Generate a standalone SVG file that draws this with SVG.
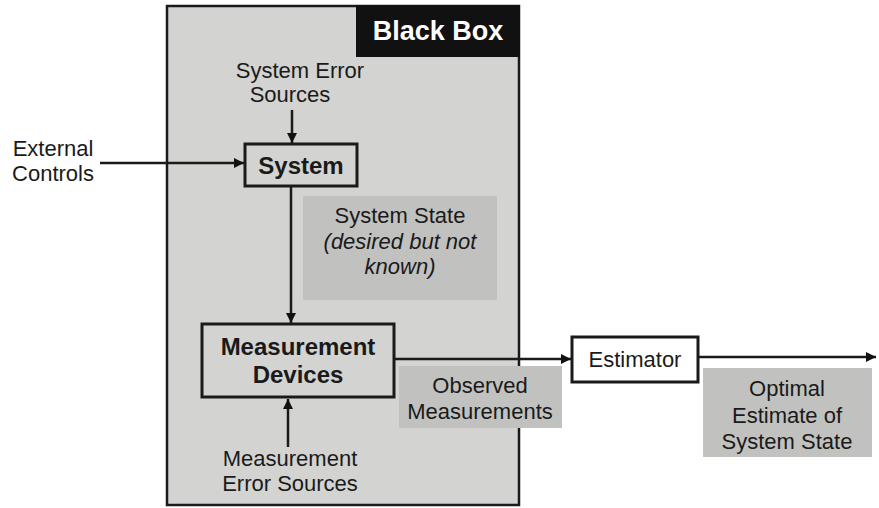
<svg xmlns="http://www.w3.org/2000/svg" width="879" height="508" viewBox="0 0 879 508">
<defs>
<marker id="ah" markerWidth="10" markerHeight="10" viewBox="0 0 10 10" refX="10" refY="5" orient="auto" markerUnits="userSpaceOnUse">
<path d="M0,0 L10,5 L0,10 z" fill="#111"/>
</marker>
<style>
text{font-family:"Liberation Sans",Arial,sans-serif;font-size:22px;fill:#1a1a1a;text-anchor:middle}
.b{font-weight:bold;font-size:24px}
.i{font-style:italic}
.box{fill:none;stroke:#1a1a1a;stroke-width:3}
.lbl{fill:#c1c2c0}
.c{stroke:#1a1a1a;stroke-width:2.5;fill:none;marker-end:url(#ah)}
</style>
</defs>
<rect width="879" height="508" fill="#ffffff"/>
<g id="blackbox">
<rect x="167" y="6" width="352" height="499" fill="#d3d4d2" stroke="#1a1a1a" stroke-width="2.5"/>
<rect x="356" y="5" width="164" height="52" fill="#111"/>
<text x="438" y="40" class="b" style="fill:#fff;font-size:27px">Black Box</text>
</g>
<g id="connectors">
<line class="c" x1="292" y1="110" x2="292" y2="143"/>
<line class="c" x1="100" y1="163" x2="244" y2="163"/>
<line class="c" x1="291" y1="187" x2="291" y2="323"/>
<line class="c" x1="288" y1="447" x2="288" y2="399"/>
<line class="c" x1="395" y1="359" x2="571" y2="359"/>
<line class="c" x1="699" y1="357" x2="876" y2="357"/>
</g>
<g id="system-error-sources">
<text x="300" y="78">System Error</text>
<text x="290" y="102">Sources</text>
</g>
<g id="external-controls">
<text x="53" y="156">External</text>
<text x="53" y="181">Controls</text>
</g>
<g id="system">
<rect class="box" x="245" y="144" width="112" height="42"/>
<text x="301" y="174" class="b">System</text>
</g>
<g id="system-state">
<rect class="lbl" x="303" y="196" width="194" height="104"/>
<text x="400" y="223">System State</text>
<text x="400" y="249" class="i">(desired but not</text>
<text x="400" y="274" class="i">known)</text>
</g>
<g id="measurement-devices">
<rect class="box" x="202" y="324" width="192" height="73"/>
<text x="298" y="355" class="b">Measurement</text>
<text x="298" y="383" class="b">Devices</text>
</g>
<g id="measurement-error-sources">
<text x="290" y="466">Measurement</text>
<text x="290" y="491">Error Sources</text>
</g>
<g id="observed-measurements">
<rect class="lbl" x="399" y="366" width="163" height="62"/>
<text x="480" y="393">Observed</text>
<text x="480" y="419">Measurements</text>
</g>
<g id="estimator">
<rect class="box" x="572" y="337" width="126" height="45"/>
<text x="635" y="367">Estimator</text>
</g>
<g id="optimal-estimate">
<rect class="lbl" x="703" y="368" width="169" height="89"/>
<text x="787" y="396">Optimal</text>
<text x="787" y="423">Estimate of</text>
<text x="787" y="449">System State</text>
</g>
</svg>
